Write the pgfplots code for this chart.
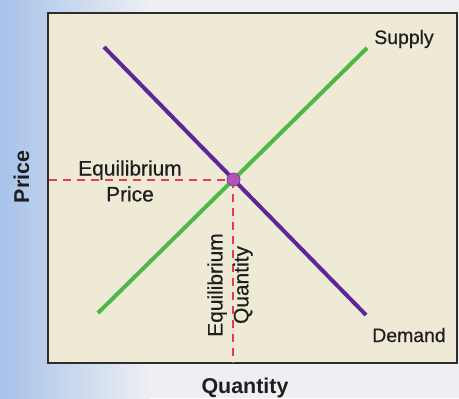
\documentclass[border=0pt]{standalone}
\usepackage{pgfplots}
\pgfplotsset{compat=1.18}
\usepackage{fontspec}
\setmainfont{Liberation Sans}
\newfontfamily\lblfont{Liberation Sans}[UprightFeatures={FakeBold=0.45}]
\newfontfamily\axfont{Liberation Sans Bold}
\definecolor{bgblue}{RGB}{166,194,234}
\definecolor{bgwhite}{RGB}{238,239,243}
\definecolor{beige}{RGB}{238,234,214}
\definecolor{boxgray}{RGB}{45,45,45}
\definecolor{supplygreen}{RGB}{76,184,70}
\definecolor{demandpurple}{RGB}{92,40,152}
\definecolor{eqred}{RGB}{230,58,80}
\definecolor{dotfill}{RGB}{178,86,182}
\definecolor{dotedge}{RGB}{140,60,160}
\definecolor{txt}{RGB}{30,30,30}
\begin{document}
\begin{tikzpicture}[x=1bp,y=1bp]
\fill[bgwhite] (0,0) rectangle (459,398);
\shade[left color=bgblue, right color=bgwhite] (0,0) rectangle (150,398);
\begin{axis}[
  at={(48bp,35bp)}, anchor=south west,
  scale only axis, width=409bp, height=350bp,
  xmin=48, xmax=457, ymin=35, ymax=385,
  axis line style={draw=boxgray, line width=1.3pt},
  axis background/.style={fill=beige},
  ticks=none, clip=false,
]
\addplot[eqred, line width=2bp, dash pattern=on 8bp off 6bp] coordinates {(49,218.5) (233.5,218.5)};
\addplot[eqred, line width=2bp, dash pattern=on 8bp off 6bp] coordinates {(232.5,218.5) (232.5,36)};
\addplot[supplygreen, line width=4bp] coordinates {(98,85) (367,350)};
\addplot[demandpurple, line width=4bp] coordinates {(104,351) (366,83)};
\addplot[only marks, mark=*, mark size=6.5bp, mark options={fill=dotfill, draw=dotedge, line width=0.8bp}] coordinates {(233.5,218.5)};
\node[anchor=base, text=txt, font=\lblfont\fontsize{19.5}{23}\selectfont] at (axis cs:404,354) {Supply};
\node[anchor=base, text=txt, font=\lblfont\fontsize{19.5}{23}\selectfont] at (axis cs:409,56) {Demand};
\node[align=center, text=txt, font=\lblfont\fontsize{21}{26}\selectfont] at (axis cs:130,217) {Equilibrium\\Price};
\node[align=center, rotate=90, text=txt, font=\lblfont\fontsize{21}{26}\selectfont] at (axis cs:230,113) {Equilibrium\\Quantity};
\node[rotate=90, text=txt, font=\axfont\fontsize{21.5}{25}\selectfont] at (axis cs:21.5,221) {Price};
\node[anchor=base, text=txt, font=\axfont\fontsize{21.5}{25}\selectfont] at (axis cs:245,5) {Quantity};
\end{axis}
\pgfresetboundingbox
\useasboundingbox (0,0) rectangle (459,398);
\end{tikzpicture}
\end{document}
